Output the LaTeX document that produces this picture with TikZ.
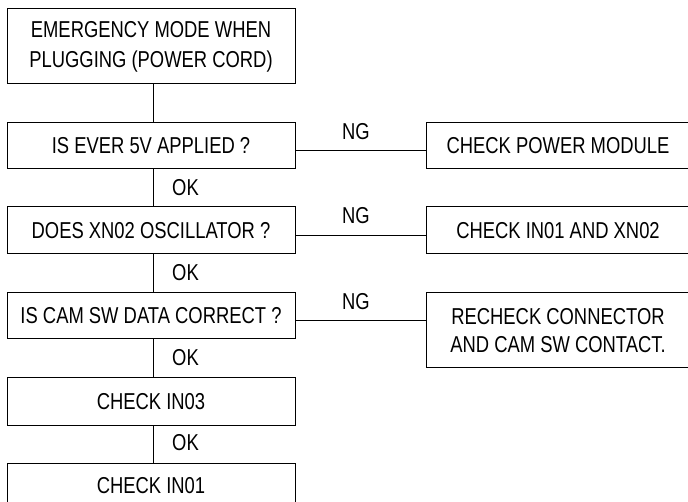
\documentclass[tikz,border=0pt]{standalone}
\usepackage{fontspec}
\setmainfont{Liberation Sans}[FakeStretch=0.80]
\begin{document}
\begin{tikzpicture}[x=1pt,y=-1pt,
  box/.style={draw=black,line width=1pt,minimum width=288pt,inner sep=0pt,align=center,font=\fontsize{23}{30}\selectfont},
  rbox/.style={draw=black,line width=1pt,minimum width=264pt,inner sep=0pt,align=center,font=\fontsize{23}{28}\selectfont},
  lbl/.style={inner sep=0pt,font=\fontsize{23}{24}\selectfont},
  conn/.style={line width=1pt,draw=black}]
\clip (0,0) rectangle (688,502);
\node[box,minimum height=75pt] (b1) at (151,46.5) {EMERGENCY MODE WHEN\\PLUGGING (POWER CORD)};
\node[box,minimum height=46pt] (b2) at (151,146) {IS EVER 5V APPLIED ?};
\node[box,minimum height=47pt] (b3) at (151,230.5) {DOES XN02 OSCILLATOR ?};
\node[box,minimum height=46pt] (b4) at (151,316) {IS CAM SW DATA CORRECT ?};
\node[box,minimum height=47pt] (b5) at (151,401.5) {CHECK IN03};
\node[box,minimum height=46pt] (b6) at (151,486) {CHECK IN01};
\node[rbox,minimum height=46pt] (r1) at (558,146) {CHECK POWER MODULE};
\node[rbox,minimum height=47pt] (r2) at (558,230.5) {CHECK IN01 AND XN02};
\node[rbox,minimum height=75pt] (r3) at (558,330.5) {RECHECK CONNECTOR\\AND CAM SW CONTACT.};
\draw[conn] ([xshift=2pt]b1.south) -- ([xshift=2pt]b2.north);
\draw[conn] ([xshift=2pt]b2.south) -- ([xshift=2pt]b3.north);
\draw[conn] ([xshift=2pt]b3.south) -- ([xshift=2pt]b4.north);
\draw[conn] ([xshift=2pt]b4.south) -- ([xshift=2pt]b5.north);
\draw[conn] ([xshift=2pt]b5.south) -- ([xshift=2pt]b6.north);
\draw[conn] ([yshift=-5pt]b2.east) -- ([yshift=-5pt]r1.west);
\draw[conn] ([yshift=-5pt]b3.east) -- ([yshift=-5pt]r2.west);
\draw[conn] ([yshift=-5pt]b4.east) -- ([yshift=-5pt]b4.east -| r3.west);
\node[lbl] (ng1) at (356,131.5) {NG};
\node[lbl] (ng2) at (356,216) {NG};
\node[lbl] (ng3) at (356,301.5) {NG};
\node[lbl] (ok1) at (185.5,187.5) {OK};
\node[lbl] (ok2) at (185.5,272.5) {OK};
\node[lbl] (ok3) at (185.5,357.5) {OK};
\node[lbl] (ok4) at (185.5,442.5) {OK};
\end{tikzpicture}
\end{document}
